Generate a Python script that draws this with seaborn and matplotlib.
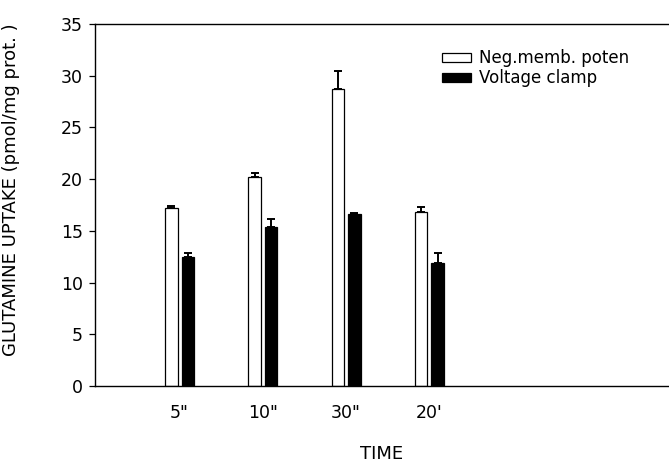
import matplotlib
matplotlib.use("Agg")
import matplotlib.pyplot as plt
import seaborn as sns
import pandas as pd

categories = ['5"', '10"', '30"', "20'"]
series_names = ["Neg.memb. poten", "Voltage clamp"]
neg_memb = [17.2, 20.2, 28.7, 16.8]
neg_memb_err = [0.2, 0.4, 1.8, 0.5]
volt_clamp = [12.5, 15.35, 16.6, 11.9]
volt_clamp_err = [0.4, 0.75, 0.15, 0.95]
y_ticks = [0, 5, 10, 15, 20, 25, 30, 35]

sns.set_theme(style="ticks")
plt.rcParams['font.family'] = ['DejaVu Sans']
plt.rcParams['text.color'] = 'black'
plt.rcParams['axes.labelcolor'] = 'black'
plt.rcParams['xtick.color'] = 'black'
plt.rcParams['ytick.color'] = 'black'

df = pd.DataFrame({
    "time": categories * 2,
    "value": neg_memb + volt_clamp,
    "series": [series_names[0]] * len(categories) + [series_names[1]] * len(categories),
})

W, H = 669, 467
fig = plt.figure(figsize=(W / 100, H / 100), dpi=100)
ax = fig.add_axes([95 / W, (H - 386) / H, (W - 95) / W, (386 - 24) / H])

sns.barplot(data=df, x="time", y="value", hue="series", order=categories,
            hue_order=series_names, palette=["white", "black"],
            edgecolor="black", linewidth=0.9, width=0.396, gap=0.24,
            errorbar=None, ax=ax)

errs = [neg_memb_err, volt_clamp_err]
vals = [neg_memb, volt_clamp]
for cont, e, v in zip(ax.containers, errs, vals):
    xs = [p.get_x() + p.get_width() / 2 for p in cont.patches]
    ax.errorbar(xs, v, yerr=[[0] * len(e), e], fmt="none", ecolor="black",
                elinewidth=1.4, capsize=3.2, capthick=1.4)

ax.set_xlim(-1.016, 5.88)
ax.set_ylim(0, 35)
ax.set_yticks(y_ticks)
ax.tick_params(axis="y", length=4.3, width=0.9, pad=4.3, labelsize=12.5,
               direction="out", colors="black")
ax.tick_params(axis="x", length=0, pad=13, labelsize=12.5, colors="black")

for s in ["left", "bottom", "top"]:
    ax.spines[s].set_linewidth(1.0)
    ax.spines[s].set_color("black")
ax.spines["right"].set_visible(False)

ax.set_ylabel("GLUTAMINE UPTAKE (pmol/mg prot. )", fontsize=13)
ax.yaxis.set_label_coords((20 - 95) / 574, (386 - 190) / 362)
ax.set_xlabel("TIME", fontsize=13)
ax.xaxis.set_label_coords(0.5, (386 - 445) / 362)

sns.move_legend(ax, "upper left", bbox_to_anchor=(434 / W, 1 - 41 / H),
                bbox_transform=fig.transFigure, frameon=False, title=None,
                fontsize=12, handlelength=1.7, handleheight=0.45,
                labelspacing=0.12, handletextpad=0.5, borderpad=0)

fig.savefig("out.png", dpi=100)
